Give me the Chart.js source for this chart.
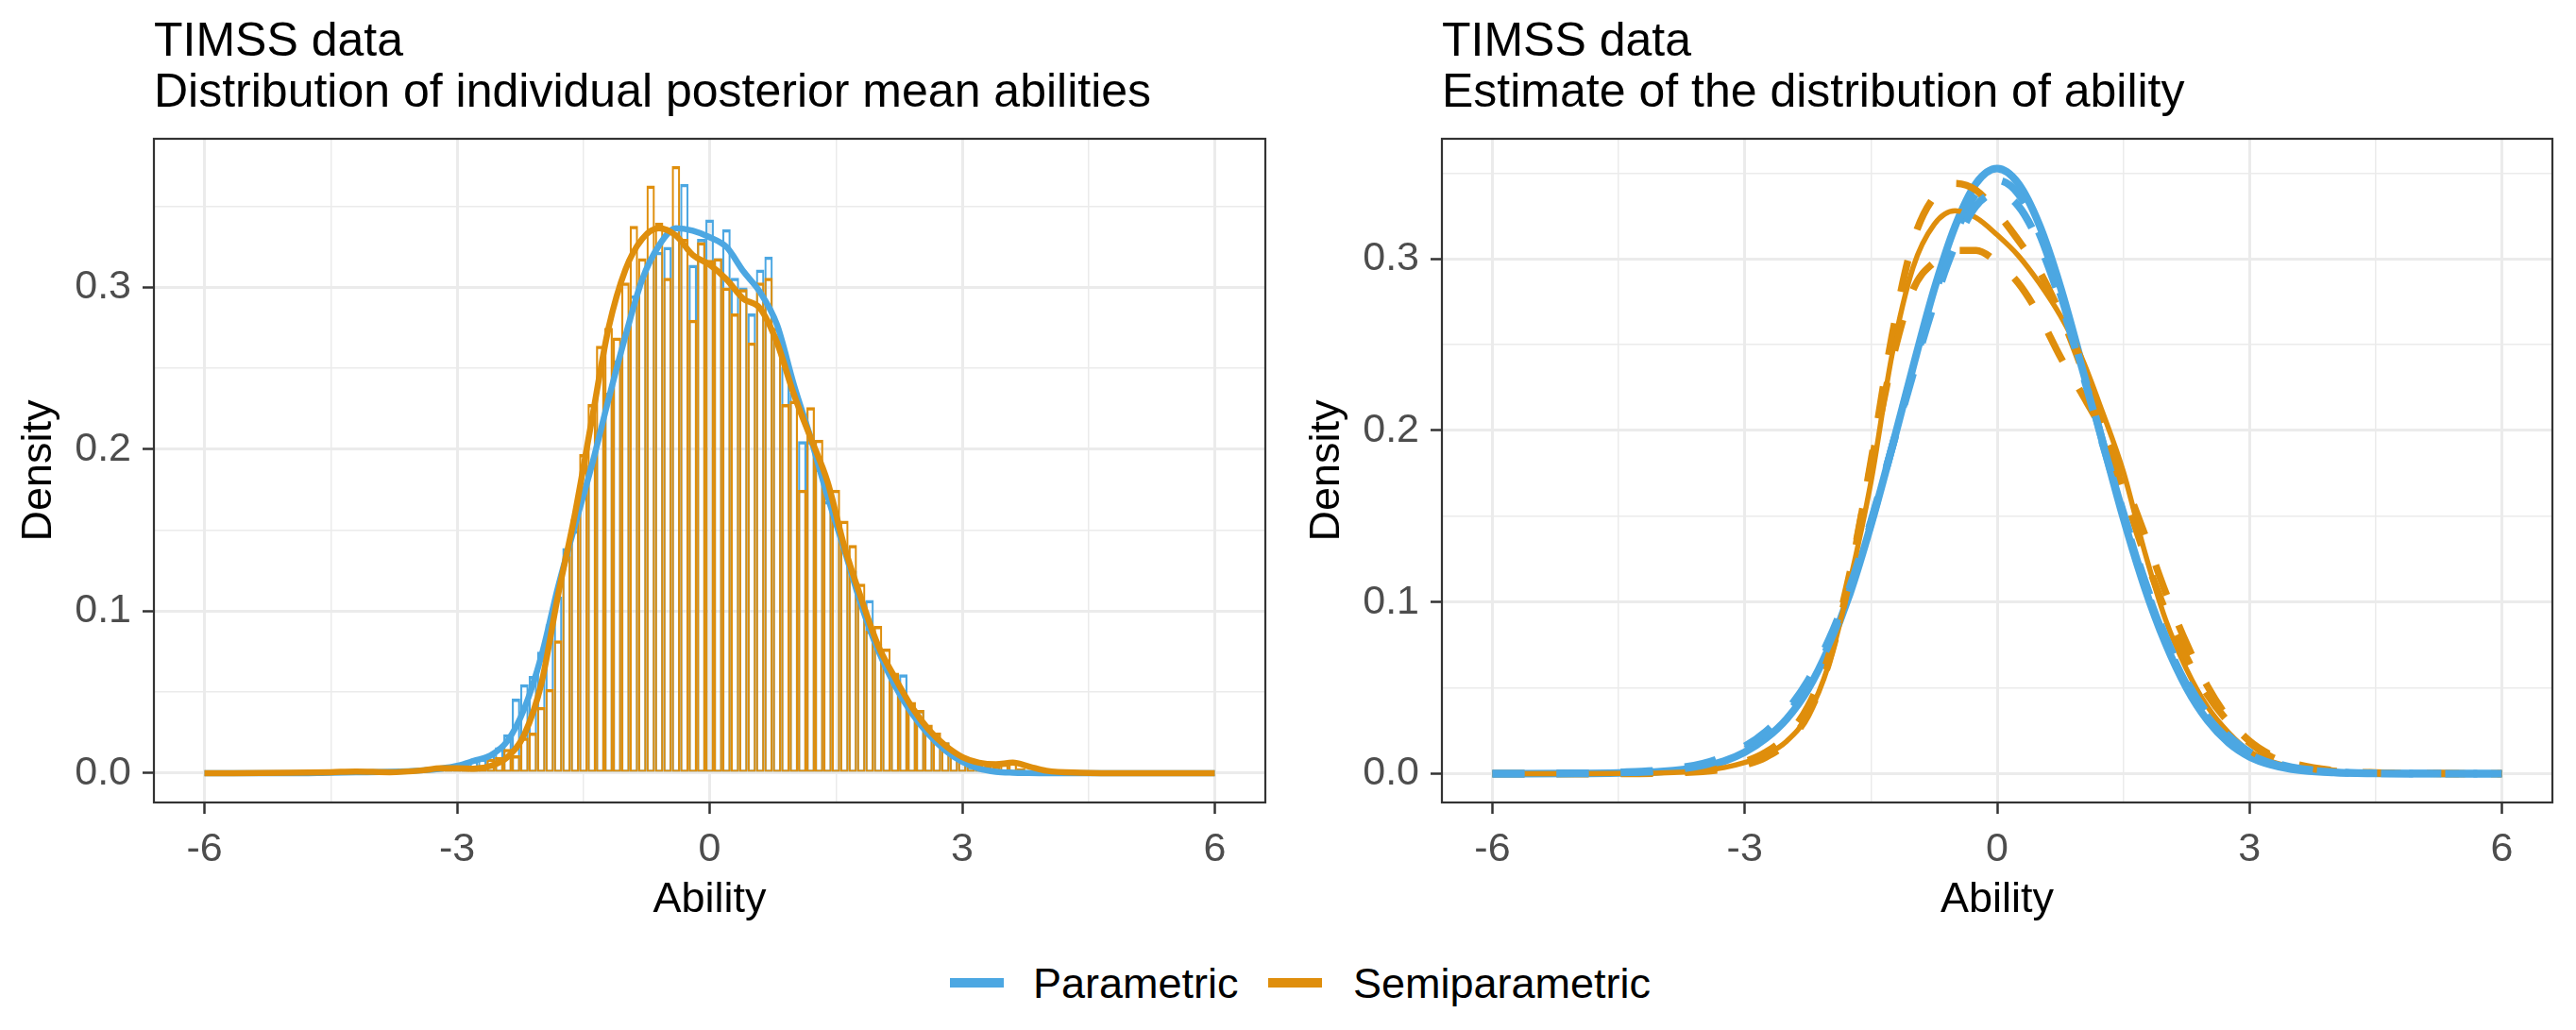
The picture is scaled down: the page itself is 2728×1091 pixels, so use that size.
<!DOCTYPE html>
<html>
<head>
<meta charset="utf-8">
<script src="https://cdn.jsdelivr.net/npm/chart.js@4.4.1/dist/chart.umd.min.js"></script>
<style>
  html, body { margin: 0; padding: 0; background: #fff; }
  body { width: 2728px; height: 1091px; position: relative; overflow: hidden;
         font-family: 'Liberation Sans', Arial, sans-serif; }
  canvas { position: absolute; top: 0; }
  #left { left: 0; }
  #right { left: 1364px; }
  .title { position: absolute; top: 15px; font-size: 50px; line-height: 54px; color: #000; white-space: nowrap; }
  .legend { position: absolute; top: 1019px; font-size: 45px; line-height: 45px; color: #000; white-space: nowrap; }
  .key { position: absolute; top: 1036px; width: 57px; height: 10px; }
</style>
</head>
<body>
<div class="title" style="left:163px">TIMSS data<br>Distribution of individual posterior mean abilities</div>
<div class="title" style="left:1527px">TIMSS data<br>Estimate of the distribution of ability</div>
<canvas id="left" width="1364" height="1000"></canvas>
<canvas id="right" width="1364" height="1000"></canvas>
<div class="key" style="left:1006px;background:#4CA7E2"></div>
<span class="legend" style="left:1094px">Parametric</span>
<div class="key" style="left:1343px;background:#DF8E0C"></div>
<span class="legend" style="left:1433px">Semiparametric</span>
<script>
// histogram of posterior means: bins of width 0.1, first centre -3.2
const binFirst = -3.2;
const binWidth = 0.1;
const histParametric = [
  0.002, 0.004, 0.006, 0.007, 0.008, 0.009, 0.012, 0.016, 0.024, 0.046,
  0.055, 0.060, 0.075, 0.092, 0.109, 0.139, 0.150, 0.172, 0.190, 0.212,
  0.235, 0.255, 0.272, 0.295, 0.305, 0.318, 0.322, 0.325, 0.334, 0.364,
  0.314, 0.330, 0.342, 0.318, 0.336, 0.306, 0.300, 0.284, 0.311, 0.319,
  0.270, 0.251, 0.235, 0.205, 0.205, 0.188, 0.168, 0.155, 0.140, 0.125,
  0.106, 0.107, 0.080, 0.068, 0.055, 0.061, 0.040, 0.039, 0.026, 0.020,
  0.019, 0.011, 0.009, 0.004, 0.003, 0.002, 0.001, 0.001, 0.000, 0.000
];
const histSemiparametric = [
  0.002, 0.003, 0.003, 0.003, 0.003, 0.005, 0.009, 0.010, 0.015, 0.011,
  0.022, 0.025, 0.041, 0.052, 0.082, 0.134, 0.157, 0.197, 0.228, 0.264,
  0.275, 0.269, 0.303, 0.338, 0.318, 0.363, 0.340, 0.306, 0.375, 0.330,
  0.280, 0.328, 0.317, 0.318, 0.300, 0.284, 0.299, 0.266, 0.303, 0.306,
  0.275, 0.228, 0.230, 0.175, 0.226, 0.206, 0.174, 0.175, 0.156, 0.141,
  0.117, 0.088, 0.091, 0.077, 0.062, 0.046, 0.044, 0.039, 0.030, 0.025,
  0.019, 0.013, 0.009, 0.006, 0.005, 0.004, 0.004, 0.006, 0.007, 0.003
];

// kernel density of the posterior means (left panel)
const kdeX = [
  -6, -5, -4.5, -4.2, -3.8, -3.4, -3.2, -3.0, -2.8, -2.6, -2.4, -2.2, -2.0, -1.8, -1.6, -1.4,
  -1.2, -1.0, -0.8, -0.6, -0.4, -0.2, 0, 0.2, 0.4, 0.6, 0.8, 1.0, 1.2, 1.4, 1.6, 1.8,
  2.0, 2.2, 2.4, 2.6, 2.8, 3.0, 3.2, 3.4, 3.6, 3.8, 4.0, 4.4, 5, 6
];
const kdeParametric = [
  0, 0, 0.0003, 0.0005, 0.0008, 0.0018, 0.0028, 0.0045, 0.0076, 0.011, 0.020, 0.040, 0.072, 0.115, 0.153, 0.190,
  0.231, 0.270, 0.305, 0.326, 0.3365, 0.335, 0.331, 0.325, 0.310, 0.297, 0.277, 0.240, 0.207, 0.171, 0.138, 0.104,
  0.076, 0.054, 0.037, 0.024, 0.014, 0.0070, 0.0028, 0.0009, 0.0003, 0.0001, 0, 0, 0, 0
];
const kdeSemiparametric = [
  0, 0.0002, 0.0006, 0.0010, 0.0006, 0.0018, 0.0030, 0.0030, 0.0028, 0.0045, 0.010, 0.024, 0.055, 0.110, 0.160, 0.218,
  0.275, 0.311, 0.330, 0.3365, 0.332, 0.320, 0.314, 0.305, 0.293, 0.287, 0.266, 0.234, 0.207, 0.180, 0.140, 0.108,
  0.079, 0.059, 0.041, 0.027, 0.017, 0.010, 0.0065, 0.0055, 0.0065, 0.004, 0.0015, 0.0003, 0, 0
];

// estimated ability distributions (right panel)
const estX = [
  -6, -5, -4.5, -4, -3.5, -3.25, -3, -2.75, -2.5, -2.25, -2, -1.75, -1.5, -1.25, -1, -0.75, -0.5, -0.25,
  0, 0.25, 0.5, 0.75, 1, 1.25, 1.5, 1.75, 2, 2.25, 2.5, 2.75, 3, 3.25, 3.5, 4, 4.5, 5, 6
];
const estParametric1 = [
  0, 0.0001, 0.0004, 0.0012, 0.0040, 0.0072, 0.0125, 0.0205, 0.032, 0.049, 0.0735, 0.105, 0.145, 0.190, 0.237, 0.282, 0.319, 0.344,
  0.3526, 0.344, 0.320, 0.284, 0.240, 0.194, 0.149, 0.109, 0.076, 0.050, 0.031, 0.018, 0.0098, 0.0052, 0.0026, 0.0006, 0.0001, 0, 0
];
const estParametric2 = [
  0, 0.0001, 0.0006, 0.0016, 0.0049, 0.0085, 0.0140, 0.0225, 0.0345, 0.051, 0.0755, 0.107, 0.146, 0.190, 0.235, 0.278, 0.314, 0.338,
  0.3458, 0.338, 0.315, 0.280, 0.238, 0.194, 0.151, 0.111, 0.078, 0.052, 0.033, 0.020, 0.0112, 0.0062, 0.0032, 0.0008, 0.0002, 0, 0
];
const estParametric3 = [
  0, 0.0002, 0.0008, 0.0021, 0.0058, 0.0098, 0.0158, 0.0245, 0.0368, 0.054, 0.078, 0.109, 0.147, 0.190, 0.233, 0.274, 0.308, 0.331,
  0.3384, 0.331, 0.309, 0.276, 0.236, 0.193, 0.152, 0.113, 0.080, 0.054, 0.035, 0.022, 0.0125, 0.0070, 0.0038, 0.0010, 0.0002, 0.0001, 0
];
const estSemiparametric1 = [
  0, 0, 0.0001, 0.0004, 0.0018, 0.0035, 0.0065, 0.011, 0.019, 0.034, 0.064, 0.112, 0.170, 0.244, 0.295, 0.320, 0.328, 0.324,
  0.314, 0.302, 0.286, 0.267, 0.243, 0.211, 0.176, 0.130, 0.090, 0.061, 0.039, 0.024, 0.013, 0.0072, 0.0040, 0.0012, 0.0004, 0.0001, 0
];
const estSemiparametric2 = [
  0, 0, 0, 0.0002, 0.0012, 0.0025, 0.005, 0.0095, 0.018, 0.034, 0.065, 0.115, 0.182, 0.255, 0.310, 0.336, 0.344, 0.340,
  0.327, 0.311, 0.293, 0.268, 0.237, 0.202, 0.165, 0.128, 0.095, 0.068, 0.046, 0.030, 0.018, 0.010, 0.0055, 0.0015, 0.0004, 0.0001, 0
];
const estSemiparametric3 = [
  0, 0, 0.0001, 0.0005, 0.0020, 0.0038, 0.007, 0.0125, 0.022, 0.039, 0.069, 0.117, 0.180, 0.240, 0.282, 0.298, 0.305, 0.305,
  0.298, 0.286, 0.267, 0.243, 0.222, 0.200, 0.172, 0.140, 0.106, 0.076, 0.051, 0.032, 0.019, 0.011, 0.0062, 0.0018, 0.0005, 0.0001, 0
];

// axis ticks
const xGrid = [-6, -4.5, -3, -1.5, 0, 1.5, 3, 4.5, 6];
const xLabelled = [-6, -3, 0, 3, 6];
const yGrid = [0, 0.05, 0.1, 0.15, 0.2, 0.25, 0.3, 0.35];
const yLabelled = [0, 0.1, 0.2, 0.3];

const blue = '#4CA7E2';
const orange = '#DF8E0C';
const gridGrey = '#EBEBEB';
const tickGrey = '#4D4D4D';
const fontFamily = "'Liberation Sans', Arial, sans-serif";

const panelBorder = {
  id: 'panelBorder',
  afterDraw(chart) {
    const { ctx, chartArea: a } = chart;
    ctx.save();
    ctx.strokeStyle = '#333333';
    ctx.lineWidth = 2.2;
    ctx.strokeRect(a.left, a.top, a.right - a.left, a.bottom - a.top);
    ctx.restore();
  }
};

function isMajor(list, c) {
  return !!(c.tick && list.includes(c.tick.value));
}

function makeScales(yMin, yMax) {
  const tickFont = { family: fontFamily, size: 43 };
  const titleFont = { family: fontFamily, size: 45 };
  return {
    x: {
      type: 'linear', min: -6.6, max: 6.6, offset: false,
      afterBuildTicks: s => { s.ticks = xGrid.map(v => ({ value: v })); },
      afterFit: s => { s.height = 150; },
      ticks: {
        autoSkip: false, maxRotation: 0, padding: 12, color: tickGrey, font: tickFont,
        callback: v => xLabelled.includes(v) ? String(v) : ''
      },
      grid: {
        offset: false, color: gridGrey,
        lineWidth: c => isMajor(xLabelled, c) ? 3 : 1.5,
        tickLength: 12, tickWidth: 2.5,
        tickColor: c => isMajor(xLabelled, c) ? '#333333' : 'rgba(0,0,0,0)'
      },
      border: { display: false },
      title: { display: true, text: 'Ability', color: '#000', font: titleFont, padding: { top: 0, bottom: 19 } }
    },
    y: {
      type: 'linear', min: yMin, max: yMax,
      afterBuildTicks: s => { s.ticks = yGrid.map(v => ({ value: v })); },
      afterFit: s => { s.width = 163; },
      ticks: {
        autoSkip: false, padding: 12, color: tickGrey, font: tickFont,
        callback: v => yLabelled.includes(v) ? v.toFixed(1) : ''
      },
      grid: {
        color: gridGrey,
        lineWidth: c => isMajor(yLabelled, c) ? 3 : 1.5,
        tickLength: 12, tickWidth: 2.5,
        tickColor: c => isMajor(yLabelled, c) ? '#333333' : 'rgba(0,0,0,0)'
      },
      border: { display: false },
      title: { display: true, text: 'Density', color: '#000', font: titleFont, padding: { top: 15, bottom: 0 } }
    }
  };
}

const commonOptions = {
  responsive: false,
  animation: false,
  devicePixelRatio: 1,
  layout: { padding: { left: 0, right: 24, top: 147, bottom: 0 } },
  plugins: { legend: { display: false }, tooltip: { enabled: false } }
};

const toPoints = (xs, ys) => xs.map((x, i) => ({ x: x, y: ys[i] }));
const binCentres = histParametric.map((_, i) => Math.round((binFirst + i * binWidth) * 10) / 10);

function histDataset(values, colour, order) {
  return {
    type: 'bar',
    data: toPoints(binCentres, values),
    borderColor: colour,
    backgroundColor: 'rgba(0,0,0,0)',
    borderWidth: { top: 3.5, bottom: 2, left: 2.2, right: 2.2 },
    borderSkipped: false,
    inflateAmount: 0,
    barPercentage: 1,
    categoryPercentage: 1,
    grouped: false,
    order: order
  };
}

function lineDataset(xs, values, colour, width, dash, order) {
  return {
    type: 'line',
    data: toPoints(xs, values),
    borderColor: colour,
    borderWidth: width,
    borderDash: dash,
    borderCapStyle: 'butt',
    borderJoinStyle: 'round',
    pointRadius: 0,
    fill: false,
    cubicInterpolationMode: 'monotone',
    order: order
  };
}

new Chart(document.getElementById('left'), {
  type: 'bar',
  data: {
    datasets: [
      histDataset(histParametric, blue, 4),
      histDataset(histSemiparametric, orange, 3),
      lineDataset(kdeX, kdeParametric, blue, 6.5, [], 2),
      lineDataset(kdeX, kdeSemiparametric, orange, 6.5, [], 1)
    ]
  },
  options: Object.assign({}, commonOptions, { scales: makeScales(-0.0181, 0.3918) }),
  plugins: [panelBorder]
});

new Chart(document.getElementById('right'), {
  type: 'line',
  data: {
    datasets: [
      lineDataset(estX, estParametric1, blue, 8, [], 6),
      lineDataset(estX, estSemiparametric1, orange, 5.5, [], 5),
      lineDataset(estX, estSemiparametric2, orange, 7.5, [34, 34], 4),
      lineDataset(estX, estSemiparametric3, orange, 7.5, [34, 34], 3),
      lineDataset(estX, estParametric2, blue, 8, [34, 34], 2),
      lineDataset(estX, estParametric3, blue, 8, [34, 34], 1)
    ]
  },
  options: Object.assign({}, commonOptions, {
    layout: { padding: { left: 0, right: 25, top: 147, bottom: 0 } },
    scales: makeScales(-0.0168, 0.3700)
  }),
  plugins: [panelBorder]
});
</script>
</body>
</html>
